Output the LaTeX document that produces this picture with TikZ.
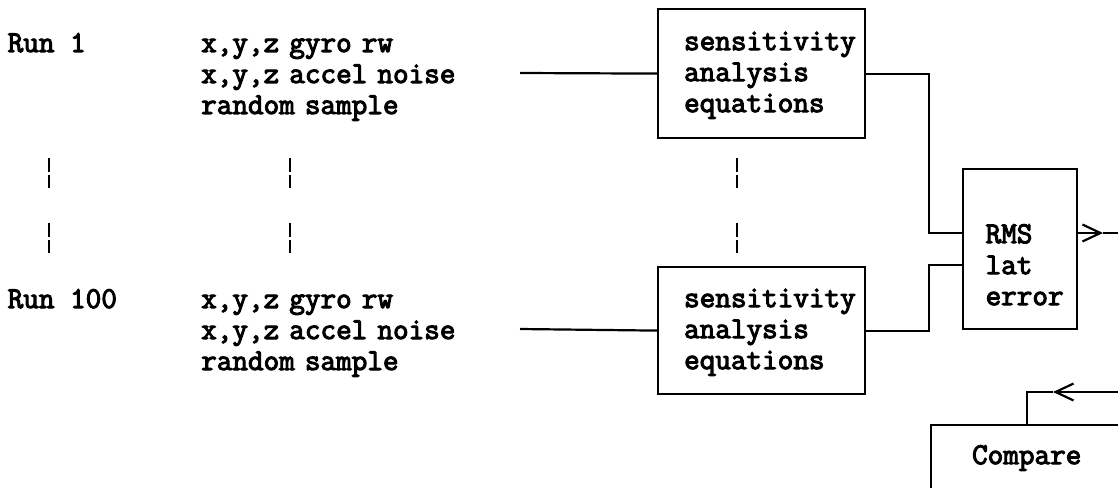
\documentclass[tikz,border=0pt]{standalone}
\usepackage{fontspec}
\setmonofont{Latin Modern Mono}[FakeBold=3.5]
\usetikzlibrary{arrows.meta,positioning,calc}
\hyphenpenalty=10000
\exhyphenpenalty=10000

\begin{document}
\begin{tikzpicture}[x=1pt,y=-1pt,
  font=\ttfamily\fontsize{30.3}{31}\selectfont,
  lbl/.style={inner sep=0pt,anchor=base west,align=left},
  blk/.style={draw,line width=2.2pt,anchor=north west,inner ysep=0pt,align=left},
  wire/.style={line width=2.2pt},
  flow/.style={wire,-{Straight Barb[length=18pt,width=17pt]}},
  brk/.style={line width=2.8pt,dash pattern=on 14pt off 2.5pt}]
\useasboundingbox (0,0) rectangle (1118,487);
% runs
\node[lbl] (run1) at (7.5,52) {Run 1};
\node[lbl,text width=300pt] (in1) at (201,52) {x,y,z gyro rw\\x,y,z accel noise\\random sample};
\node[lbl] (run100) at (7.5,308) {Run 100};
\node[lbl,text width=300pt] (in100) at (201,308) {x,y,z gyro rw\\x,y,z accel noise\\random sample};
\foreach \x in {49,290,737}
  \foreach \y in {158,223}
    \draw[brk] (\x,\y) -- ++(0,30);
% blocks
\node[blk,text width=155pt,inner xsep=26pt,text height=41pt,text depth=88pt] (sa1) at (657,8) {sensitivity\\analysis\\equations};
\node[blk,text width=155pt,inner xsep=26pt,text height=40pt,text depth=87pt] (sa100) at (657,266) {sensitivity\\analysis\\equations};
\node[blk,text width=69pt,inner xsep=22.5pt,text height=74pt,text depth=86pt] (rms) at (962,168) {RMS\\lat\\error};
\node[blk,text width=200pt,inner xsep=41pt,text height=39pt,text depth=70pt] (cmp) at (930,424) {Compare};
% wiring
\coordinate (src1) at (520,73);
\coordinate (src100) at (520,329);
\coordinate (j1) at (929,233);
\coordinate (j2) at (929,265);
\coordinate (otip) at (1103,233);
\coordinate (oend) at (1125,233);
\coordinate (ftip) at (1053,392);
\coordinate (fend) at (1125,392);
\draw[wire] (src1) -- (sa1.west);
\draw[wire] (src100) -- (sa100.west);
\draw[wire] (sa1.east) -| (j1) -- (j1 -| rms.west);
\draw[wire] (sa100.east) -| (j2) -- (j2 -| rms.west);
\draw[flow] (j1 -| rms.east) -- (otip);
\draw[wire] (otip) -- (oend);
\draw[flow] (fend) -- (ftip);
\draw[wire] (ftip) -| ([xshift=97pt]cmp.north west);
\end{tikzpicture}
\end{document}
